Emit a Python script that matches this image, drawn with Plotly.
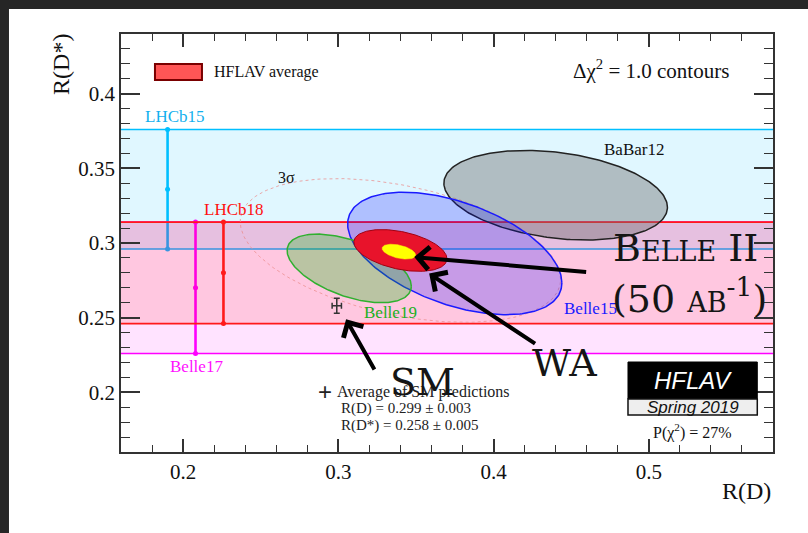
import numpy as np
import plotly.graph_objects as go

# ---------------- data ----------------
# 2D measurements: R(D), R(D*) (total uncertainties) and correlation
exp2d_names = ["BaBar12", "Belle15", "Belle19"]
exp2d_rd = [0.440, 0.375, 0.307]
exp2d_rd_err = [0.072, 0.069, 0.040]
exp2d_rds = [0.332, 0.293, 0.283]
exp2d_rds_err = [0.030, 0.041, 0.023]
exp2d_rho = [-0.27, -0.48, -0.52]

# 1D R(D*) measurements (order of drawing)
exp1d_names = ["LHCb15", "Belle17", "LHCb18"]
exp1d_rds = [0.336, 0.270, 0.280]
exp1d_rds_err = [0.040, 0.044, 0.034]

# HFLAV average (Spring 2019)
avg_rd = [0.340]
avg_rd_err = [0.030]
avg_rds = [0.295]
avg_rds_err = [0.0140]
avg_rho = [-0.40]

# Belle II 50 ab^-1 projection
b2_rd = [0.339]
b2_rd_err = [0.0108]
b2_rds = [0.2942]
b2_rds_err = [0.0050]
b2_rho = [-0.45]

# SM prediction average
sm_rd = [0.299]
sm_rd_err = [0.003]
sm_rds = [0.258]
sm_rds_err = [0.005]

p_chi2 = "27%"
dchi2_3sigma = 11.83

x_tickvals = [0.2, 0.3, 0.4, 0.5]
x_ticktext = ["0.2", "0.3", "0.4", "0.5"]
y_tickvals = [0.2, 0.25, 0.3, 0.35, 0.4]
y_ticktext = ["0.2", "0.25", "0.3", "0.35", "0.4"]

# ---------------- styling ----------------
X_RANGE = [0.16, 0.58]
Y_RANGE = [0.16, 0.44]
bar_x = {"LHCb15": 0.190, "Belle17": 0.208, "LHCb18": 0.226}
band_line = {"LHCb15": "#00bfff", "Belle17": "#ff00ff", "LHCb18": "#ff1a1a"}
band_fill = {"LHCb15": "rgba(0,191,255,0.12)", "Belle17": "rgba(255,0,255,0.11)",
             "LHCb18": "rgba(255,0,0,0.12)"}
ell_fill = {"BaBar12": "rgba(110,110,110,0.42)", "Belle15": "rgba(0,0,255,0.22)",
            "Belle19": "rgba(0,190,0,0.27)"}
ell_line = {"BaBar12": "#222222", "Belle15": "#1a1aff", "Belle19": "#2fb02f"}

SERIF = "Liberation Serif, Times New Roman, serif"
SANS = "Liberation Sans, Arial, sans-serif"
BIG = "DejaVu Serif, serif"


def ellipse(cx, cy, sx, sy, rho, k=1.0, n=241):
    t = np.linspace(0, 2 * np.pi, n)
    x = cx + k * sx * np.cos(t)
    y = cy + k * sy * (rho * np.cos(t) + np.sqrt(1 - rho ** 2) * np.sin(t))
    return x, y


fig = go.Figure()

# 1D bands + error bars
for name, c, e in zip(exp1d_names, exp1d_rds, exp1d_rds_err):
    lo, hi = c - e, c + e
    fig.add_trace(go.Scatter(
        x=[X_RANGE[0], X_RANGE[1], X_RANGE[1], X_RANGE[0], X_RANGE[0]],
        y=[lo, lo, hi, hi, lo], mode="lines", fill="toself",
        fillcolor=band_fill[name], line=dict(width=0), hoverinfo="skip",
        showlegend=False))
    for yy in (lo, hi):
        fig.add_trace(go.Scatter(x=X_RANGE, y=[yy, yy], mode="lines",
                                 line=dict(color=band_line[name], width=1.6),
                                 hoverinfo="skip", showlegend=False))
    fig.add_trace(go.Scatter(
        x=[bar_x[name]] * 3, y=[lo, c, hi], mode="lines+markers",
        line=dict(color=band_line[name], width=2.6),
        marker=dict(color=band_line[name], size=5), showlegend=False,
        name=name))

# 3 sigma contour of the average
x3, y3 = ellipse(avg_rd[0], avg_rds[0], avg_rd_err[0], avg_rds_err[0], avg_rho[0],
                 k=np.sqrt(dchi2_3sigma))
fig.add_trace(go.Scatter(x=x3, y=y3, mode="lines",
                         line=dict(color="rgba(235,140,140,0.75)", width=1, dash="dot"),
                         hoverinfo="skip", showlegend=False))

# 2D measurement ellipses
for name, cx, sx, cy, sy, r in zip(exp2d_names, exp2d_rd, exp2d_rd_err,
                                    exp2d_rds, exp2d_rds_err, exp2d_rho):
    ex, ey = ellipse(cx, cy, sx, sy, r)
    fig.add_trace(go.Scatter(x=ex, y=ey, mode="lines", fill="toself",
                             fillcolor=ell_fill[name],
                             line=dict(color=ell_line[name], width=1.5),
                             name=name, showlegend=False))

# HFLAV average
ex, ey = ellipse(avg_rd[0], avg_rds[0], avg_rd_err[0], avg_rds_err[0], avg_rho[0])
fig.add_trace(go.Scatter(x=ex, y=ey, mode="lines", fill="toself",
                         fillcolor="#e8132b", line=dict(color="#a00010", width=1),
                         name="HFLAV average", showlegend=False))
# Belle II projection
ex, ey = ellipse(b2_rd[0], b2_rds[0], b2_rd_err[0], b2_rds_err[0], b2_rho[0])
fig.add_trace(go.Scatter(x=ex, y=ey, mode="lines", fill="toself",
                         fillcolor="#ffff00", line=dict(color="#ffff00", width=0.5),
                         name="Belle II", showlegend=False))

# SM point
fig.add_trace(go.Scatter(
    x=sm_rd, y=sm_rds, mode="markers", marker=dict(size=1, color="#333"),
    error_x=dict(type="data", array=sm_rd_err, color="#333", thickness=1.5, width=3),
    error_y=dict(type="data", array=sm_rds_err, color="#333", thickness=1.5, width=3),
    showlegend=False, name="SM"))

ann = []


def label(x, y, text, color, size=17, xanchor="center", font=SERIF, xref="x", yref="y", **kw):
    ann.append(dict(x=x, y=y, xref=xref, yref=yref, text=text, showarrow=False,
                    xanchor=xanchor, yanchor="middle",
                    font=dict(family=font, size=size, color=color), **kw))


label(0.195, 0.3845, "LHCb15", "#12b0ee")
label(0.2325, 0.3225, "LHCb18", "#ff1010")
label(0.2087, 0.2175, "Belle17", "#ff10ff")
label(0.4700, 0.3625, "BaBar12", "#111", xanchor="left")
label(0.3150, 0.2533, "Belle19", "#22b022", xanchor="left")
label(0.4440, 0.2562, "Belle15", "#1a1aff", xanchor="left")
label(0.2665, 0.3440, "3σ", "#111", size=16)

# legend / info texts (paper coordinates)
label(0.1396, 0.909, "HFLAV average", "#111", size=16, xref="paper", yref="paper",
      xanchor="left")
label(0.9356, 0.914, "Δχ<sup>2</sup> = 1.0 contours", "#111", size=21,
      xref="paper", yref="paper", xanchor="right")
label(0.3129, 0.145, "+", "#222", size=24, xref="paper", yref="paper", font=SANS)
label(0.3282, 0.1445, "Average of SM predictions", "#222", size=16, xref="paper",
      yref="paper", xanchor="left")
label(0.3348, 0.1030, f"R(D) = {sm_rd[0]:.3f} ± {sm_rd_err[0]:.3f}", "#222", size=15,
      xref="paper", yref="paper", xanchor="left")
label(0.3348, 0.0640, f"R(D*) = {sm_rds[0]:.3f} ± {sm_rds_err[0]:.3f}", "#222", size=15,
      xref="paper", yref="paper", xanchor="left")
label(0.8768, 0.1722, "<i>HFLAV</i>", "white", size=24, font=SANS,
      xref="paper", yref="paper")
label(0.8768, 0.1075, "<i>Spring 2019</i>", "#111", size=17, font=SANS,
      xref="paper", yref="paper")
label(0.8768, 0.050, f"P(χ<sup>2</sup>) = {p_chi2}", "#111", size=16,
      xref="paper", yref="paper")

# axis titles
label(-0.092, 0.926, "R(D*)", "#111", size=24, xref="paper", yref="paper", textangle=-90)
label(1.0, -0.094, "R(D)", "#111", size=24, xref="paper", yref="paper", xanchor="right")

# big overlay texts
big = dict(family=BIG, size=38, color="#151515", variant="small-caps")
ann.append(dict(x=0.7515, y=0.487, xref="paper", yref="paper", xanchor="left",
                yanchor="middle", showarrow=False, font=big, text="Belle II"))
ann.append(dict(x=0.7500, y=0.373, xref="paper", yref="paper", xanchor="left",
                yanchor="middle", showarrow=False, font=big,
                text="(50 ab<sup>-1</sup>)"))
ann.append(dict(x=0.6273, y=0.212, xref="paper", yref="paper", xanchor="left",
                yanchor="middle", showarrow=False, font=big, text="WA"))
ann.append(dict(x=0.4095, y=0.168, xref="paper", yref="paper", xanchor="left",
                yanchor="middle", showarrow=False, font=big, text="SM"))

# arrows
arrows = [
    ((0.3489, 0.2906), (0.4606, 0.2805)),  # Belle II
    ((0.3585, 0.2795), (0.4277, 0.2319)),  # WA
    ((0.3050, 0.2489), (0.3238, 0.2142)),  # SM
]
for (tx, ty), (sx_, sy_) in arrows:
    ann.append(dict(x=tx, y=ty, ax=sx_, ay=sy_, xref="x", yref="y", axref="x",
                    ayref="y", text="", showarrow=True, arrowhead=4, arrowsize=1.1,
                    arrowwidth=4, arrowcolor="#000"))

shapes = [
    # screenshot white page over dark border
    dict(type="rect", xref="paper", yref="paper", x0=-0.1718, x1=1.06, y0=-0.2,
         y1=1.0598, fillcolor="white", line=dict(width=0), layer="below"),
    # legend symbol
    dict(type="rect", xref="paper", yref="paper", x0=0.0521, x1=0.1242, y0=0.890,
         y1=0.9282, fillcolor="#ff5656", line=dict(color="#7a0000", width=2)),
    # HFLAV logo
    dict(type="rect", xref="paper", yref="paper", x0=0.7776, x1=0.9759, y0=0.1268,
         y1=0.2153, fillcolor="black", line=dict(color="black", width=1)),
    dict(type="rect", xref="paper", yref="paper", x0=0.7776, x1=0.9759, y0=0.0885,
         y1=0.1268, fillcolor="#eeeeee", line=dict(color="#111", width=1.5)),
]

axis_common = dict(showgrid=False, zeroline=False, showline=True, linecolor="#333",
                   linewidth=1.5, mirror="allticks", ticks="inside", tickcolor="#333",
                   tickwidth=1.5,
                   tickfont=dict(family=SERIF, size=21, color="#111"))

fig.update_layout(
    width=808, height=533,
    margin=dict(l=121, r=35, t=34, b=81),
    paper_bgcolor="#262626", plot_bgcolor="white",
    showlegend=False,
    xaxis=dict(range=X_RANGE, tickvals=x_tickvals, ticktext=x_ticktext, ticklen=13,
               minor=dict(ticks="inside", ticklen=7, dtick=0.02, tick0=0,
                          tickcolor="#333", tickwidth=1.2),
               **axis_common),
    yaxis=dict(range=Y_RANGE, tickvals=y_tickvals, ticktext=y_ticktext, ticklen=19,
               minor=dict(ticks="inside", ticklen=9, dtick=0.01, tick0=0,
                          tickcolor="#333", tickwidth=1.2),
               **axis_common),
    annotations=ann,
    shapes=shapes,
)

fig.write_html("out.html")
